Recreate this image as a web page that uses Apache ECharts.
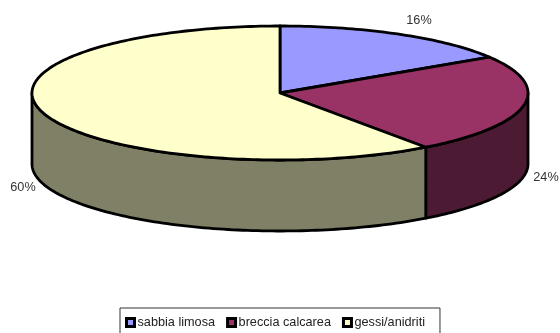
<!DOCTYPE html>
<html>
<head>
<meta charset="utf-8">
<style>html,body{margin:0;padding:0;background:#fff}#chart{width:560px;height:333px}</style>
<script src="https://cdn.jsdelivr.net/npm/echarts@6/dist/echarts.min.js"></script>
</head>
<body>
<div id="chart"></div>
<script>
// Soil composition shown as a tilted pie with an extruded rim.
const categories = ['sabbia limosa', 'breccia calcarea', 'gessi/anidriti'];
const shares = [16, 24, 60];
const topColors = ['#9999FF', '#993366', '#FFFFCC'];
const rimColors = ['#4D4D80', '#4D1A33', '#808066'];
const labelPositions = [[419, 20], [546, 177], [23, 187]];

const cx = 280, cy = 93, rx = 248, ry = 67, depth = 71;
const total = shares.reduce((a, b) => a + b, 0);

// Angles run clockwise from twelve o'clock.
function pt(a, dy) {
  return [cx + rx * Math.sin(a), cy - ry * Math.cos(a) + (dy || 0)];
}
function arc(a0, a1, dy) {
  const n = Math.max(2, Math.ceil(Math.abs(a1 - a0) / 0.02));
  const out = [];
  for (let i = 0; i <= n; i++) out.push(pt(a0 + (a1 - a0) * i / n, dy));
  return out;
}

function makeSeries(idx) {
  const before = shares.slice(0, idx).reduce((a, b) => a + b, 0);
  return {
    type: 'custom',
    name: categories[idx],
    coordinateSystem: 'none',
    silent: true,
    z: 2,
    itemStyle: { color: topColors[idx] },
    data: [[shares[idx], before]],
    renderItem(params, api) {
      const a0 = api.value(1) / total * 2 * Math.PI;
      const a1 = a0 + api.value(0) / total * 2 * Math.PI;
      const children = [];
      const line = { stroke: '#000', lineWidth: 2.8, lineJoin: 'round' };
      // Only the part of the rim facing the viewer is drawn.
      const s0 = Math.max(a0, Math.PI / 2), s1 = Math.min(a1, 3 * Math.PI / 2);
      if (s1 > s0) {
        children.push({
          type: 'polygon', z2: 1,
          shape: { points: arc(s0, s1, 0).concat(arc(s1, s0, depth)) },
          style: Object.assign({ fill: rimColors[idx] }, line)
        });
      }
      children.push({
        type: 'polygon', z2: 2,
        shape: { points: [[cx, cy]].concat(arc(a0, a1, 0)) },
        style: Object.assign({ fill: topColors[idx] }, line)
      });
      children.push({
        type: 'text', z2: 3,
        style: {
          text: Math.round(api.value(0) / total * 100) + '%',
          x: labelPositions[idx][0], y: labelPositions[idx][1],
          align: 'center', verticalAlign: 'middle',
          font: '12.7px "Liberation Sans", Arial, sans-serif', fill: '#333'
        }
      });
      return { type: 'group', children };
    }
  };
}

const chart = echarts.init(document.getElementById('chart'), null, { renderer: 'canvas' });
chart.setOption({
  animation: false,
  backgroundColor: '#fff',
  legend: {
    show: true,
    data: categories,
    left: 120, top: 308,
    width: 320,
    orient: 'horizontal',
    backgroundColor: '#fff',
    borderColor: '#333',
    borderWidth: 1,
    padding: [8, 15, 13, 5],
    itemGap: 11,
    itemWidth: 8, itemHeight: 8,
    icon: 'rect',
    selectedMode: false,
    itemStyle: { borderColor: '#000', borderWidth: 3 },
    textStyle: { fontFamily: '"Liberation Sans", Arial, sans-serif', fontSize: 12.7, color: '#222', padding: [0, 0, 0, -2] }
  },
  series: categories.map((_, i) => makeSeries(i))
});
</script>
</body>
</html>
